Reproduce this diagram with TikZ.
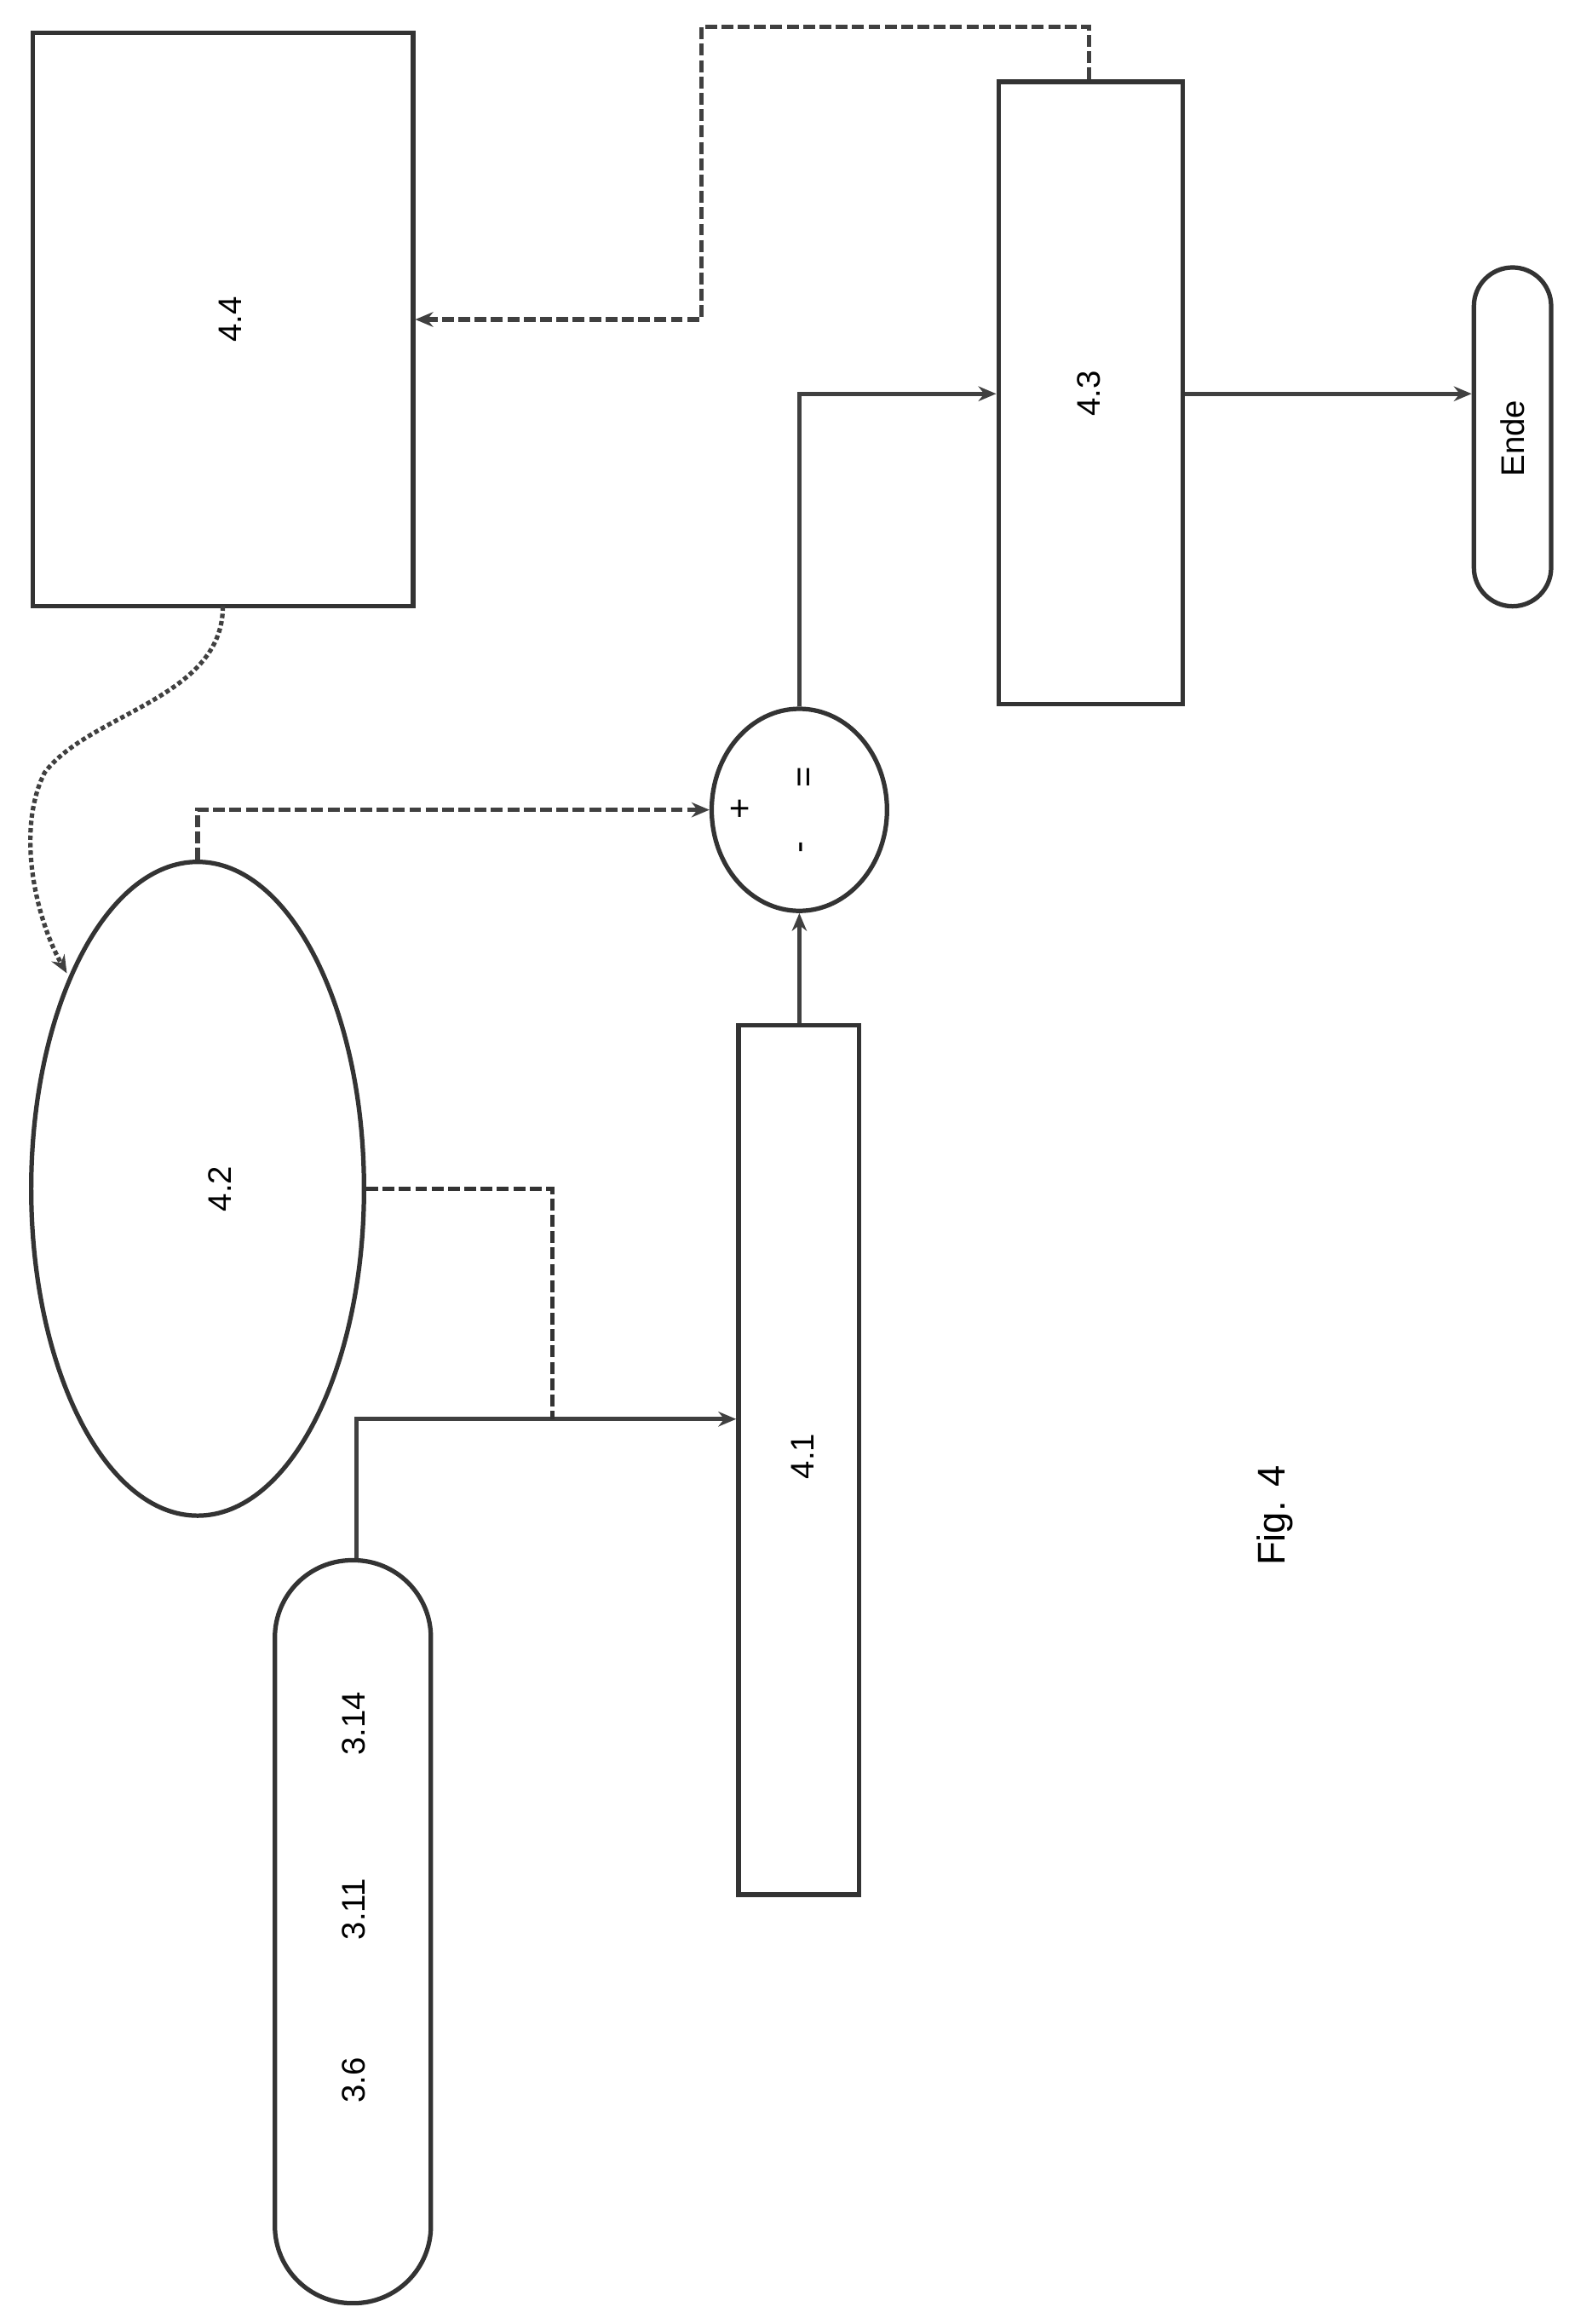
\documentclass[tikz,border=0pt]{standalone}
\usepackage{fontspec}
\setmainfont{Liberation Sans}
\usetikzlibrary{arrows.meta,shapes.geometric}
\begin{document}
\begin{tikzpicture}[x=1pt,y=-1pt,
  ln/.style={line width=3pt,draw=black!80},
  conn/.style={line width=3pt,draw=black!75,-{Stealth[length=12pt,width=10pt]}},
  dconn/.style={conn,dash pattern=on 8pt off 3pt},
  lbl/.style={rotate=90,font=\fontsize{22}{24}\selectfont}]
\useasboundingbox (0,0) rectangle (1060,1564);
\node[ln,draw,minimum width=256pt,minimum height=386pt,inner sep=0] (b44) at (150,215) {};
\node[lbl] at (155,215) {4.4};
\node[ln,draw,minimum width=124pt,minimum height=419pt,inner sep=0] (b43) at (734,264.5) {};
\node[lbl] at (733,265) {4.3};
\node[ln,draw,rounded corners=26pt,minimum width=52pt,minimum height=228pt,inner sep=0] (ende) at (1018,294) {};
\node[lbl] at (1018,295) {Ende};
\node[ln,draw,ellipse,minimum width=118pt,minimum height=136pt,inner sep=0] (cmp) at (538,545) {};
\node[font=\fontsize{24}{26}\selectfont,rotate=90] at (499,544) {+};
\node[font=\fontsize{24}{26}\selectfont,rotate=90] at (543,523) {=};
\node[font=\fontsize{24}{26}\selectfont,rotate=90] at (542,570) {-};
\node[ln,draw,ellipse,minimum width=224pt,minimum height=440pt,inner sep=0] (e42) at (133,800) {};
\node[lbl] at (148,800) {4.2};
\node[ln,draw,minimum width=81pt,minimum height=585pt,inner sep=0] (b41) at (537.5,982.5) {};
\node[lbl] at (540,980) {4.1};
\node[ln,draw,rounded corners=52pt,minimum width=105pt,minimum height=500pt,inner sep=0] (s3) at (237.5,1300) {};
\node[lbl] at (238,1160) {3.14};
\node[lbl] at (238,1285) {3.11};
\node[lbl] at (238,1400) {3.6};
\node[rotate=90,font=\fontsize{26}{28}\selectfont] (fig) at (858,1020) {Fig. 4};
\coordinate (j) at (372,955);
\draw[conn] (s3.north -| 240,0) -- (240,955) -- (b41.west |- 0,955);
\draw[ln,dash pattern=on 8pt off 3pt] (e42.east) -- (372,800) -- (j);
\draw[conn] (b41.north -| 538,0) -- (cmp.south);
\draw[dconn] (e42.north) -- (133,545) -- (cmp.west);
\draw[conn] (cmp.north) -- (538,265) -- (b43.west |- 0,265);
\draw[conn] (b43.east |- 0,265) -- (ende.west |- 0,265);
\draw[dconn] (b43.north -| 733,0) -- (733,18) -- (472,18) -- (472,215) -- (b44.east);
\draw[conn,dash pattern=on 3pt off 2pt] (150,408) .. controls (150,470) and (60,480) .. (30,520) .. controls (10,560) and (25,620) .. (45,655);
\end{tikzpicture}
\end{document}
